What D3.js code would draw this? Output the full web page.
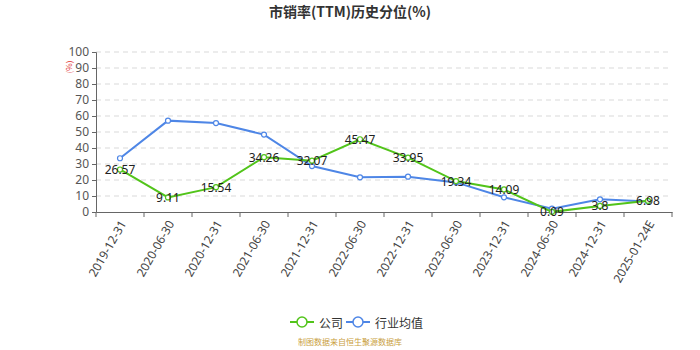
<!DOCTYPE html>
<html>
<head>
<meta charset="utf-8">
<script src="https://cdn.jsdelivr.net/npm/d3@7/dist/d3.min.js"></script>
<style>
  html, body { margin: 0; padding: 0; background: #fff; }
  svg { display: block; font-family: "Noto Sans CJK SC", "Noto Sans", sans-serif; }
</style>
</head>
<body>
<svg id="chart" width="700" height="350"></svg>
<script>
// Report dates on the x axis
const categories = ["2019-12-31", "2020-06-30", "2020-12-31", "2021-06-30", "2021-12-31", "2022-06-30",
  "2022-12-31", "2023-06-30", "2023-12-31", "2024-06-30", "2024-12-31", "2025-01-24E"];
// Company P/S (TTM) historical percentile
const companyValues = [26.57, 9.11, 15.54, 34.26, 32.07, 45.47, 33.95, 19.34, 14.09, 0.09, 3.8, 6.98];
// Industry average percentile
const industryValues = [33.6, 57.1, 55.6, 48.4, 28.7, 21.7, 22.1, 18.5, 9.2, 2.1, 7.9, 6.5];
const yTicks = [0, 10, 20, 30, 40, 50, 60, 70, 80, 90, 100];

const svg = d3.select("#chart");
const margin = { left: 96, right: 28, top: 52, bottom: 138 };
const W = 700, H = 350;
const x = d3.scaleBand().domain(categories).range([margin.left, W - margin.right]);
const y = d3.scaleLinear().domain([0, 100]).range([H - margin.bottom, margin.top]);
const cx = d => x(d) + x.bandwidth() / 2;

const green = "#52c41a", blue = "#4e86e6";

// Title
svg.append("text").attr("x", 350).attr("y", 17).attr("text-anchor", "middle")
  .attr("font-size", 14).attr("font-weight", "bold").attr("fill", "#333")
  .text("市销率(TTM)历史分位(%)");

// Horizontal dashed grid
svg.append("g").selectAll("line").data(yTicks.filter(d => d > 0)).join("line")
  .attr("x1", margin.left).attr("x2", W - margin.right)
  .attr("y1", d => y(d)).attr("y2", d => y(d))
  .attr("stroke", "#d9d9d9").attr("stroke-dasharray", "5,4");

// Y axis
const yAxis = svg.append("g").attr("transform", `translate(${margin.left},0)`)
  .call(d3.axisLeft(y).tickValues(yTicks).tickSize(4).tickPadding(3));
yAxis.selectAll("text").attr("font-size", 12).attr("fill", "#555").attr("font-family", "'Noto Sans', sans-serif");
yAxis.selectAll("line, path").attr("stroke", "#666");

// Unit label
svg.append("text").attr("transform", `translate(68,${y(90) - 1}) rotate(-90)`)
  .attr("text-anchor", "middle").attr("dominant-baseline", "central")
  .attr("font-size", 8).attr("fill", "#e03030").text("(%)");

// X axis
const xAxis = svg.append("g").attr("transform", `translate(0,${y(0)})`)
  .call(d3.axisBottom(x).tickSize(0).tickFormat(""));
xAxis.select("path").attr("stroke", "#666");
const tickPos = categories.map(d => x(d)).concat([W - margin.right]);
xAxis.selectAll(".tk").data(tickPos).join("line").attr("class", "tk")
  .attr("x1", d => d).attr("x2", d => d).attr("y1", 0).attr("y2", 5).attr("stroke", "#666");
svg.append("g").selectAll("text").data(categories).join("text")
  .attr("transform", d => `translate(${cx(d) + 4},${y(0) + 10}) rotate(-60)`)
  .attr("text-anchor", "end").attr("dominant-baseline", "middle")
  .attr("font-size", 12).attr("fill", "#444").attr("font-family", "'Noto Sans', sans-serif")
  .text(d => d);

// Lines
const line = d3.line().x((d, i) => cx(categories[i])).y(d => y(d));
function drawSeries(vals, color) {
  svg.append("path").datum(vals).attr("d", line).attr("fill", "none")
    .attr("stroke", color).attr("stroke-width", 2);
  svg.append("g").selectAll("circle").data(vals).join("circle")
    .attr("cx", (d, i) => cx(categories[i])).attr("cy", d => y(d)).attr("r", 2.5)
    .attr("fill", "#fff").attr("stroke", color).attr("stroke-width", 1.2);
}
drawSeries(industryValues, blue);
drawSeries(companyValues, green);

// Value labels for the company series
svg.append("g").selectAll("text").data(companyValues).join("text")
  .attr("x", (d, i) => cx(categories[i])).attr("y", d => y(d))
  .attr("text-anchor", "middle").attr("dominant-baseline", "central")
  .attr("font-size", 12).attr("fill", "#222").attr("font-family", "'Noto Sans', sans-serif")
  .text(d => d);

// Legend
const legend = [{ name: "公司", color: green, x: 290 }, { name: "行业均值", color: blue, x: 346 }];
const lg = svg.append("g");
legend.forEach(l => {
  lg.append("line").attr("x1", l.x).attr("x2", l.x + 24).attr("y1", 322).attr("y2", 322)
    .attr("stroke", l.color).attr("stroke-width", 2);
  lg.append("circle").attr("cx", l.x + 12).attr("cy", 322).attr("r", 5)
    .attr("fill", "#fff").attr("stroke", l.color).attr("stroke-width", 1.5);
  lg.append("text").attr("x", l.x + 29).attr("y", 322).attr("dominant-baseline", "central")
    .attr("font-size", 12).attr("fill", "#333").text(l.name);
});

// Source note
svg.append("text").attr("x", 350).attr("y", 345).attr("text-anchor", "middle")
  .attr("font-size", 8).attr("fill", "#c9a040").text("制图数据来自恒生聚源数据库");
</script>
</body>
</html>
